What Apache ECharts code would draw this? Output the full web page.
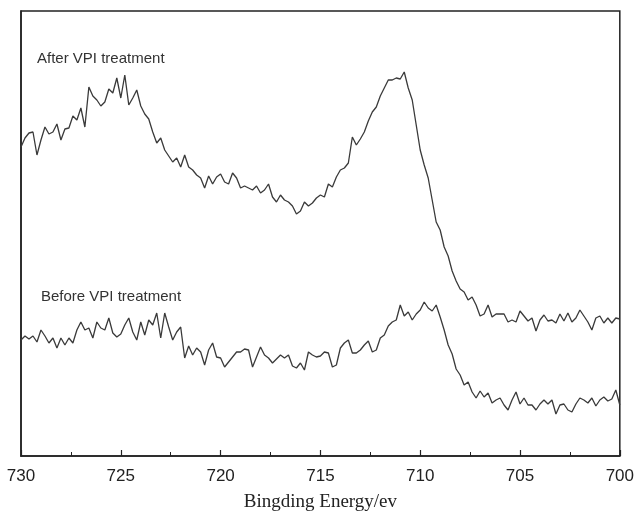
<!DOCTYPE html>
<html>
<head>
<meta charset="utf-8">
<script src="https://cdn.jsdelivr.net/npm/echarts@6/dist/echarts.min.js"></script>
<style>
  html, body { margin: 0; padding: 0; background: #fff; }
  #main { width: 637px; height: 517px; }
</style>
</head>
<body>
<div id="main"></div>
<script>
// binding energy grid, 730 -> 700 eV, 0.2 eV step
const energyStart = 730;
const energyStep = 0.2;
const xTicks = [730, 725, 720, 715, 710, 705, 700];

// intensities (arbitrary units)
const afterVPI = [
  309,318,323,324,301,316,329,322,324,332,316,327,328,340,336,348,329,369,360,356,
  350,354,367,363,378,358,381,351,358,366,350,342,337,324,313,318,306,300,294,298,
  289,301,289,286,281,278,268,280,272,279,282,274,272,283,278,268,270,268,266,270,
  263,266,272,259,254,261,256,254,250,242,245,254,250,253,258,261,259,272,269,279,
  286,288,293,319,311,317,324,335,344,349,360,368,376,376,378,377,384,368,356,331,
  306,291,278,256,234,226,209,200,185,175,167,164,156,159,151,140,142,151,139,142,
  142,142,134,136,134,145,140,135,138,125,136,141,135,136,133,142,135,143,134,138,
  146,140,134,126,138,140,133,138,133,138,137
];
const beforeVPI = [
  116,120,117,120,114,126,120,113,118,108,118,111,118,113,126,134,126,128,118,134,
  128,126,138,123,119,122,131,138,124,116,134,121,136,131,143,118,143,129,116,124,
  129,98,110,101,108,104,91,106,113,99,98,89,94,99,104,104,107,106,89,99,
  109,101,98,93,97,101,98,101,90,88,93,86,104,101,99,100,104,103,89,91,
  108,113,116,103,103,106,111,115,104,106,118,121,130,134,136,151,140,144,136,142,
  146,154,148,145,151,139,126,111,102,87,81,71,74,64,58,65,59,63,53,56,
  58,51,46,56,64,52,58,51,51,46,52,56,52,56,42,51,52,46,44,52,
  58,56,53,58,50,56,59,55,57,66,51
];

function pairs(vals) {
  return vals.map((v, i) => [+(energyStart - i * energyStep).toFixed(1), v]);
}

const chart = echarts.init(document.getElementById('main'));

const lineStyle = { color: '#3a3a3a', width: 1.3 };

chart.setOption({
  animation: false,
  grid: {
    left: 21, right: 14, top: 11, bottom: 61,
    show: true, borderColor: '#222', borderWidth: 1.5
  },
  xAxis: {
    type: 'value',
    inverse: true,
    min: 700, max: 730, interval: 5,
    name: 'Bingding Energy/ev',
    nameLocation: 'middle',
    nameGap: 37,
    nameTextStyle: { fontFamily: 'Liberation Serif', fontSize: 19, color: '#222' },
    axisLine: { lineStyle: { color: '#222', width: 1.5 } },
    axisTick: { inside: true, length: 6, lineStyle: { color: '#222', width: 1.2 } },
    minorTick: { show: true, splitNumber: 2, length: 4, lineStyle: { color: '#222', width: 1 } },
    axisLabel: {
      margin: 12, fontFamily: 'Liberation Sans', fontSize: 17, color: '#222',
      formatter: v => xTicks.includes(v) ? String(v) : ''
    },
    splitLine: { show: false }
  },
  yAxis: {
    type: 'value',
    min: 0, max: 445,
    axisLine: { show: true, lineStyle: { color: '#222', width: 1.5 } },
    axisTick: { show: false },
    axisLabel: { show: false },
    splitLine: { show: false }
  },
  graphic: [
    { type: 'text', left: 37, top: 51,
      style: { text: 'After VPI treatment', font: '15px "Liberation Sans"', fill: '#333' } },
    { type: 'text', left: 41, top: 289,
      style: { text: 'Before VPI treatment', font: '15px "Liberation Sans"', fill: '#333' } }
  ],
  series: [
    { name: 'After VPI treatment', type: 'line', data: pairs(afterVPI),
      showSymbol: false, lineStyle: lineStyle },
    { name: 'Before VPI treatment', type: 'line', data: pairs(beforeVPI),
      showSymbol: false, lineStyle: lineStyle }
  ]
});
</script>
</body>
</html>
